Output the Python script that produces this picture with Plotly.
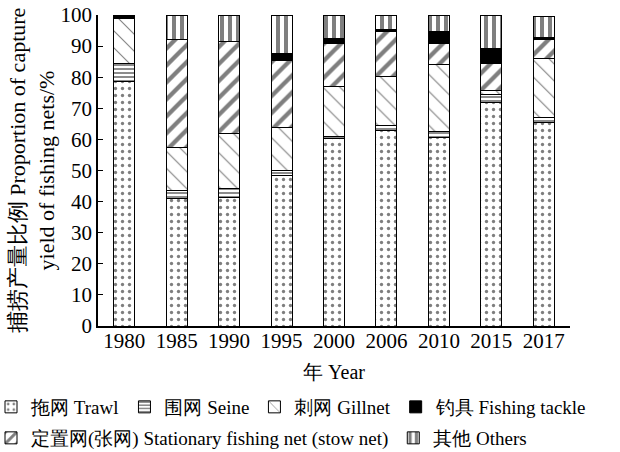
import plotly.graph_objects as go

years = ["1980", "1985", "1990", "1995", "2000", "2006", "2010", "2015", "2017"]
trawl = [78.7, 41.0, 41.4, 48.5, 60.2, 62.9, 60.5, 71.8, 65.3]
seine = [5.7, 2.5, 2.7, 1.5, 0.8, 1.6, 1.9, 2.7, 1.9]
gillnet = [14.6, 13.9, 17.7, 13.8, 16.1, 15.6, 21.8, 1.3, 18.8]
tackle = [1.0, 0.0, 0.0, 2.1, 1.6, 0.5, 3.7, 4.8, 0.7]
stationary = [0.0, 34.8, 29.6, 21.7, 13.8, 14.6, 6.7, 8.6, 6.1]
others = [0.0, 7.8, 8.6, 12.4, 7.5, 4.8, 5.4, 10.8, 6.8]

FONT = "Liberation Serif"

# (name, values, pattern shape, size, solidity, legend rank, legend id)
specs = [
    ("拖网 Trawl", trawl, ".", 7, 0.18, 1, "legend"),
    ("围网 Seine", seine, "-", 4, 0.45, 2, "legend"),
    ("刺网 Gillnet", gillnet, "\\", 12, 0.09, 3, "legend"),
    ("定置网(张网) Stationary fishing net (stow net)", stationary, "/", 12, 0.36, 5, "legend2"),
    ("钓具 Fishing tackle", tackle, "", 6, 1.0, 4, "legend"),
    ("其他 Others", others, "|", 8, 0.5, 6, "legend2"),
]

fig = go.Figure()
for nm, vals, shape, size, sol, rank, lg in specs:
    if shape == "":
        marker = dict(color="black", line=dict(color="black", width=1))
    else:
        marker = dict(color="white", line=dict(color="black", width=1),
                      pattern=dict(shape=shape, size=size, solidity=sol,
                                   fgcolor="black", bgcolor="white", fillmode="overlay"))
    fig.add_trace(go.Bar(x=years, y=vals, name=nm, width=0.4, marker=marker,
                         legendrank=rank, legend=lg))

W, H = 620, 452
ML, MR, MT, MB = 98, 2, 15, 452 - 326
gw, gh = W - ML - MR, H - MT - MB

def px_x(x):
    return (x - ML) / gw

def px_y(y):
    return 1 - (y - MT) / gh

leg_common = dict(orientation="h", xanchor="left", yanchor="middle",
                  itemwidth=30, traceorder="normal",
                  font=dict(size=19, family=FONT), bgcolor="rgba(0,0,0,0)")

fig.update_layout(
    barmode="stack",
    width=W, height=H,
    margin=dict(l=ML, r=MR, t=MT, b=MB, autoexpand=False),
    plot_bgcolor="white", paper_bgcolor="white",
    font=dict(family=FONT, size=21, color="black"),
    legend=dict(x=px_x(-9), y=px_y(407), **leg_common),
    legend2=dict(x=px_x(-9), y=px_y(438), **leg_common),
    xaxis=dict(domain=[0, (570 - 98) / gw], showline=True, linecolor="black", linewidth=2,
               ticks="", ticklabelstandoff=-5,
               title=dict(text="年 Year", standoff=13, font=dict(size=20))),
    yaxis=dict(range=[0, 100], dtick=10, showline=True, linecolor="black",
               linewidth=1.5, ticks="inside", ticklen=5, tickcolor="black",
               showgrid=False, zeroline=False, ticklabeloverflow="allow",
               title=dict(text="捕捞产量比例 Proportion of capture<br>yield of fishing nets/%",
                          standoff=0, font=dict(size=22))),
)

fig.write_html("out.html", config={"displayModeBar": False},
               post_script="document.body.style.margin='0';")
